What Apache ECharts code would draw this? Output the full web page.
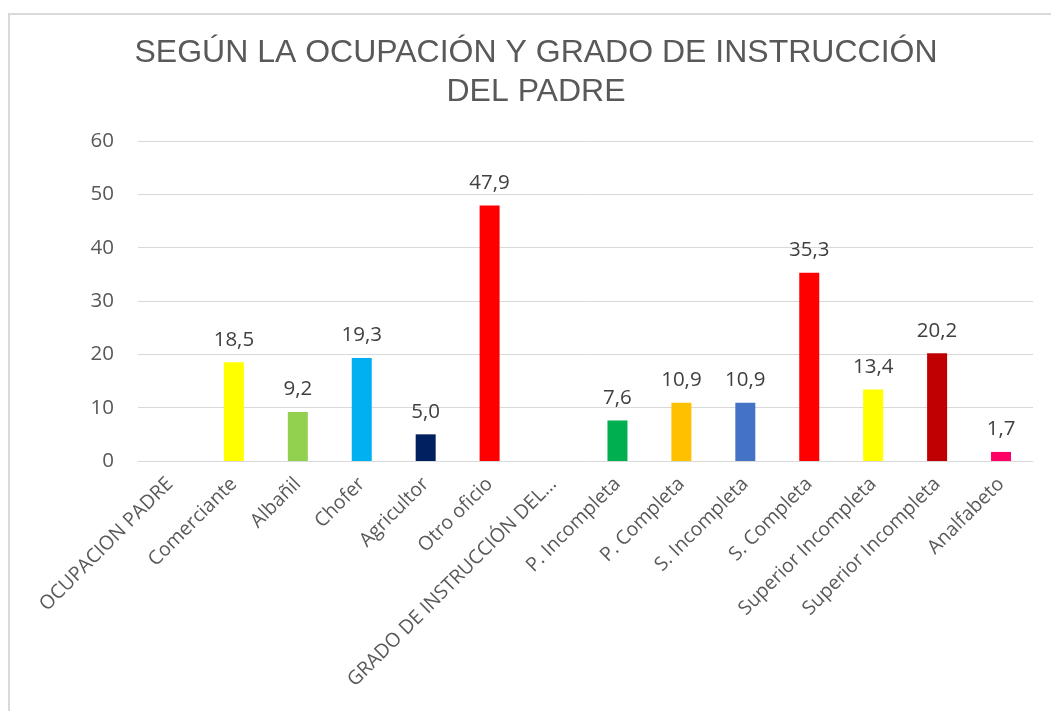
<!DOCTYPE html>
<html>
<head>
<meta charset="utf-8">
<script src="https://cdn.jsdelivr.net/npm/echarts@6/dist/echarts.min.js"></script>
<style>
html,body{margin:0;padding:0;background:#fff;}
#chart{width:1051px;height:711px;}
</style>
</head>
<body>
<div id="chart"></div>
<script>
const categories = ['OCUPACION PADRE','Comerciante','Albañil','Chofer','Agricultor','Otro oficio','GRADO DE INSTRUCCIÓN DEL PADRE','P. Incompleta','P. Completa','S. Incompleta','S. Completa','Superior Incompleta','Superior Incompleta','Analfabeto'];
const values = [null, 18.5, 9.2, 19.3, 5.0, 47.9, null, 7.6, 10.9, 10.9, 35.3, 13.4, 20.2, 1.7];
const barColors = ['#FFFFFF','#FFFF00','#92D050','#00B0F0','#002060','#FF0000','#FFFFFF','#00B050','#FFC000','#4472C4','#FF0000','#FFFF00','#C00000','#FF0066'];
const yTicks = {min: 0, max: 60, interval: 10};

const chart = echarts.init(document.getElementById('chart'));
chart.setOption({
  backgroundColor: '#ffffff',
  animation: false,
  graphic: [{
    type: 'rect', shape: {x: 9, y: 14, width: 1100, height: 760},
    style: {fill: 'none', stroke: '#d9d9d9', lineWidth: 2}, silent: true, z: -1
  }],
  title: {
    text: 'SEGÚN LA OCUPACIÓN Y GRADO DE INSTRUCCIÓN\nDEL PADRE',
    left: 531, top: 29, textAlign: 'center',
    textStyle: {fontFamily: 'Liberation Sans', fontSize: 32, fontWeight: 'normal', color: '#595959', lineHeight: 39}
  },
  grid: {left: 138, right: 18, top: 141, bottom: 250, containLabel: false},
  xAxis: {
    type: 'category', data: categories,
    axisLine: {lineStyle: {color: '#d9d9d9', width: 1}},
    axisTick: {show: false},
    axisLabel: {
      interval: 0, rotate: 45, margin: 20,
      fontFamily: 'Open Sans', fontSize: 19.5, color: '#595959',
      width: 290, overflow: 'truncate', ellipsis: '...'
    }
  },
  yAxis: {
    type: 'value', min: yTicks.min, max: yTicks.max, interval: yTicks.interval,
    axisLine: {show: false}, axisTick: {show: false},
    splitLine: {lineStyle: {color: '#d9d9d9', width: 1}},
    axisLabel: {margin: 24, fontFamily: 'Open Sans', fontSize: 20.5, color: '#595959'}
  },
  series: [{
    type: 'bar', barWidth: 20,
    data: values.map((v, i) => ({value: v, itemStyle: {color: barColors[i]}})),
    label: {
      show: true, position: 'top', distance: 12,
      fontFamily: 'Open Sans', fontSize: 20.5, color: '#404040',
      formatter: p => p.value == null ? '' : p.value.toFixed(1).replace('.', ',')
    }
  }]
});
</script>
</body>
</html>
